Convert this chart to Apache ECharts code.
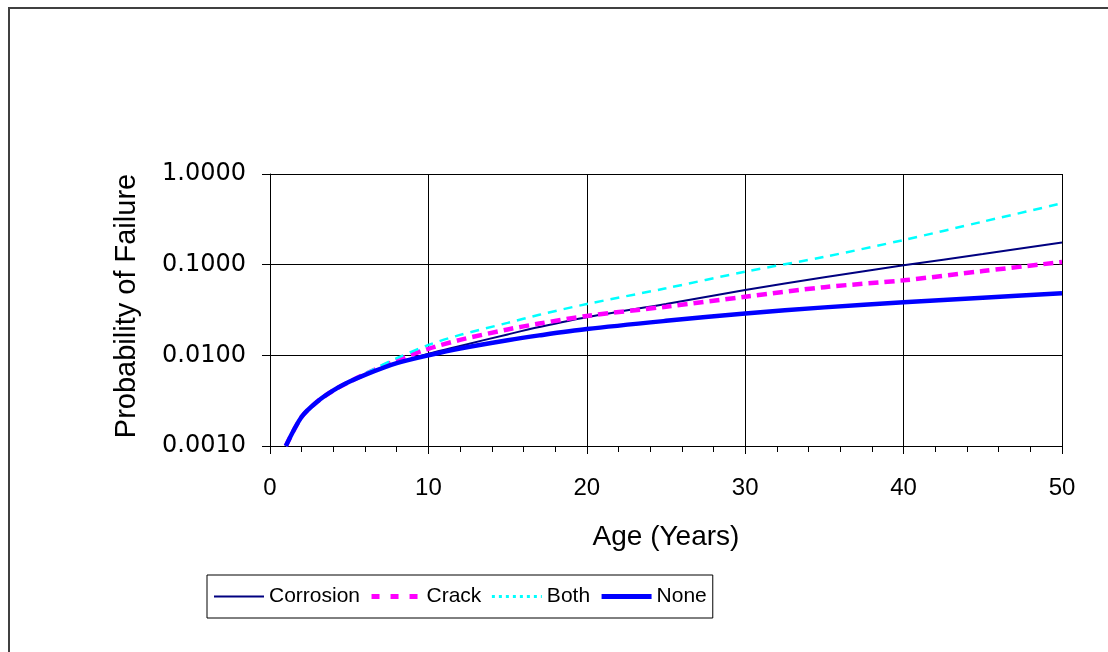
<!DOCTYPE html>
<html>
<head>
<meta charset="utf-8">
<script src="https://cdn.jsdelivr.net/npm/echarts@6/dist/echarts.min.js"></script>
<style>
html,body{margin:0;padding:0;background:#fff;}
#chart{width:1108px;height:652px;}
</style>
</head>
<body>
<div id="chart"></div>
<script>
const ages = [1,2,3,4,5,6,8,10,12,15,17,20,25,30,35,40,45,50];
const corrosion = [0.001,0.0021,0.0031,0.0041,0.0051,0.0061,0.0082,0.0104,0.0127,0.0170,0.0205,0.0263,0.0368,0.0525,0.0726,0.0984,0.131,0.176];
const crack = [0.001,0.0021,0.0031,0.0041,0.0051,0.0062,0.0088,0.0118,0.0148,0.0193,0.0224,0.0272,0.0344,0.0443,0.0565,0.0672,0.085,0.107];
const both = [0.001,0.0021,0.0031,0.0041,0.0051,0.0063,0.0093,0.0130,0.0168,0.0228,0.0280,0.0368,0.0549,0.0837,0.122,0.187,0.298,0.475];
const none = [0.001,0.0021,0.0031,0.0041,0.0051,0.0061,0.0082,0.0100,0.0119,0.0147,0.0166,0.0195,0.0240,0.0290,0.0338,0.0385,0.0432,0.0483];
const seriesNames = ['Corrosion','Crack','Both','None'];

const font = 'Liberation Sans, Arial, sans-serif';
const pairs = v => ages.map((a,i)=>[a,v[i]]);

const chart = echarts.init(document.getElementById('chart'));
chart.setOption({
  animation:false,
  backgroundColor:'#fff',
  graphic:[{type:'rect',shape:{x:9,y:8,width:1200,height:700},style:{fill:'none',stroke:'#404040',lineWidth:2},silent:true}],
  grid:{left:270,top:174,right:46,bottom:206,containLabel:false},
  legend:{
    left:207, top:575,
    data:[
      {name:'Corrosion',lineStyle:{width:2}},
      {name:'Crack',lineStyle:{width:5,type:[8,11]}},
      {name:'Both',lineStyle:{type:[3,4],width:3}},
      {name:'None',lineStyle:{width:5}}
    ],
    itemWidth:50, itemHeight:14, itemGap:9,
    itemStyle:{opacity:0},
    padding:[11,6,11,6],
    borderColor:'#000', borderWidth:1,
    textStyle:{fontFamily:font,fontSize:21,color:'#000'}
  },
  xAxis:{
    type:'value', min:0, max:50, interval:10,
    name:'Age (Years)', nameLocation:'middle', nameGap:77,
    nameTextStyle:{fontFamily:font,fontSize:28,color:'#000'},
    axisLine:{lineStyle:{color:'#000',width:1}},
    axisTick:{show:true,length:8,lineStyle:{color:'#000'}},
    minorTick:{show:true,splitNumber:5,length:6,lineStyle:{color:'#000'}},
    axisLabel:{fontFamily:font,fontSize:24,color:'#000',margin:30},
    splitLine:{show:true,lineStyle:{color:'#000',width:1}}
  },
  yAxis:{
    type:'log', logBase:10, min:0.001, max:1,
    name:'Probability of Failure', nameLocation:'middle', nameGap:129,
    nameTextStyle:{fontFamily:font,fontSize:29,color:'#000',padding:[0,0,0,8]},
    axisLine:{show:true,lineStyle:{color:'#000',width:1}},
    axisTick:{show:true,length:8,lineStyle:{color:'#000'}},
    axisLabel:{fontFamily:'"DejaVu Sans", sans-serif',fontSize:24,color:'#000',margin:24,formatter:v=>Number(v).toFixed(4)},
    splitLine:{show:true,lineStyle:{color:'#000',width:1}}
  },
  series:[
    {name:'Corrosion',type:'line',data:pairs(corrosion),symbol:'none',smooth:0.3,
     lineStyle:{color:'#000080',width:2},itemStyle:{color:'#000080'}},
    {name:'Crack',type:'line',data:pairs(crack),symbol:'none',smooth:0.3,
     lineStyle:{color:'#ff00ff',width:4.5,type:[10,6]},itemStyle:{color:'#ff00ff'}},
    {name:'Both',type:'line',data:pairs(both),symbol:'none',smooth:0.3,
     lineStyle:{color:'#00ffff',width:2.5,type:[9,7]},itemStyle:{color:'#00ffff'}},
    {name:'None',type:'line',data:pairs(none),symbol:'none',smooth:0.3,
     lineStyle:{color:'#0000ff',width:4.5},itemStyle:{color:'#0000ff'}}
  ]
});
</script>
</body>
</html>
